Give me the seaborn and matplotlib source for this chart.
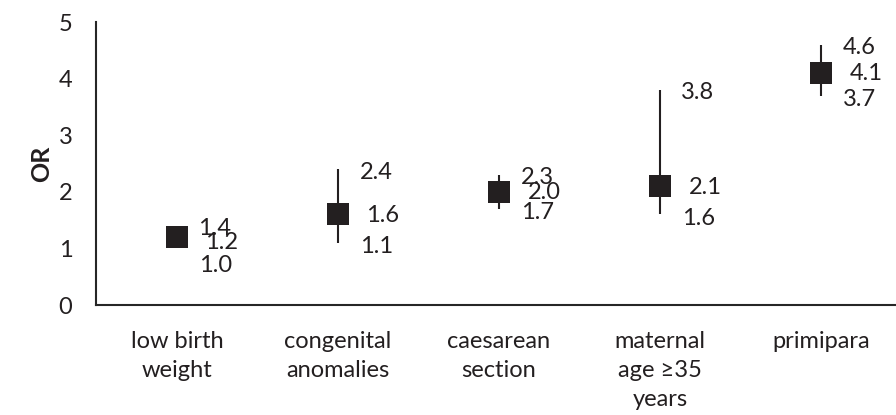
import matplotlib
matplotlib.use('Agg')
import matplotlib.pyplot as plt
import seaborn as sns
import pandas as pd

# odds ratios with 95% CI
categories = ['low birth\nweight', 'congenital\nanomalies', 'caesarean\nsection',
              'maternal\nage \u226535\nyears', 'primipara']
or_values = [1.2, 1.6, 2.0, 2.1, 4.1]
ci_low = [1.0, 1.1, 1.7, 1.6, 3.7]
ci_high = [1.4, 2.4, 2.3, 3.8, 4.6]

sns.set_style('white')
plt.rcParams['font.family'] = ['Lato', 'DejaVu Sans']
ink = '#231F20'
fs = 17

df = pd.DataFrame({'cat': categories, 'OR': or_values, 'lo': ci_low, 'hi': ci_high})

fig = plt.figure(figsize=(8.96, 4.15), dpi=100)
ax = fig.add_axes([96 / 896, 1 - 305 / 415, 1 - 96 / 896, (305 - 22) / 415])

ax.vlines(range(len(df)), df['lo'], df['hi'], color=ink, lw=1.5, zorder=2)
sns.scatterplot(data=df, x='cat', y='OR', marker='s', s=255, color=ink,
                edgecolor=ink, linewidth=0, ax=ax, zorder=3)

# data labels (Excel style: high, value, low to the right of each point)
mid_nudge = [-4, 0, 0, 0, 0]
low_nudge = [-13, 0, 0, 0, 0]
for i, r in df.iterrows():
    ax.annotate(f"{r['hi']:.1f}", (i, r['hi']), xytext=(38, -3), textcoords='offset pixels',
                ha='center', va='center', fontsize=fs, color=ink)
    ax.annotate(f"{r['OR']:.1f}", (i, r['OR']), xytext=(45, -1 + mid_nudge[i]),
                textcoords='offset pixels', ha='center', va='center', fontsize=fs, color=ink)
    ax.annotate(f"{r['lo']:.1f}", (i, r['lo']), xytext=(39, -4 + low_nudge[i]),
                textcoords='offset pixels', ha='center', va='center', fontsize=fs, color=ink)

ax.set_ylim(0, 5)
ax.set_xlim(-0.503, 4.466)
ax.set_yticks([0, 1, 2, 3, 4, 5])
ax.set_xlabel('')
ax.set_ylabel('OR', fontsize=18, fontweight='bold', color=ink, labelpad=4)
ax.tick_params(axis='y', length=0, pad=17, labelsize=fs, colors=ink)
ax.tick_params(axis='x', length=0, pad=19, labelsize=fs, colors=ink)
for lab in ax.get_xticklabels():
    lab.set_linespacing(1.45)
    lab.set_va('top')

sns.despine(ax=ax)
for sp in ['left', 'bottom']:
    ax.spines[sp].set_color('#262626')
    ax.spines[sp].set_linewidth(1.5)

fig.savefig('out.png', dpi=100)
